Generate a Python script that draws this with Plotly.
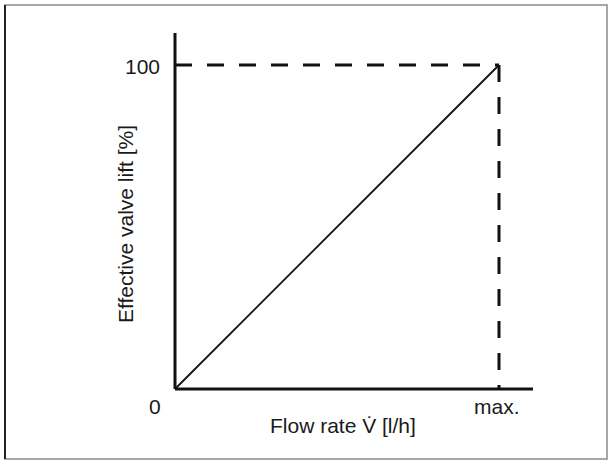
import plotly.graph_objects as go

# ---- data ----
flow_rel = [0.0, 1.0]            # flow rate as fraction of max
lift_pct = [0.0, 100.0]          # effective valve lift [%]
x_tick_vals = [1.0]
x_tick_text = ["max."]
y_tick_vals = [100.0]
y_tick_text = ["100"]
origin_label = "0"
x_axis_end = 1.105
y_axis_end = 109.9

W, H = 612, 464
X0, SX = 175, 324.0   # pixel of x=0, px per unit
Y0, SY = 389, 3.24    # pixel of y=0, px per %

fig = go.Figure()

ink = "#111111"

# axes
fig.add_trace(go.Scatter(x=[0, 0], y=[0, y_axis_end], mode="lines",
                         line=dict(color=ink, width=3), hoverinfo="skip"))
fig.add_trace(go.Scatter(x=[0, x_axis_end], y=[0, 0], mode="lines",
                         line=dict(color=ink, width=3), hoverinfo="skip"))
# dashed guides
fig.add_trace(go.Scatter(x=[flow_rel[0], flow_rel[1]], y=[lift_pct[1], lift_pct[1]], mode="lines",
                         line=dict(color=ink, width=3, dash="17px,15px"), hoverinfo="skip"))
fig.add_trace(go.Scatter(x=[flow_rel[1], flow_rel[1]], y=[lift_pct[1], lift_pct[0]], mode="lines",
                         line=dict(color=ink, width=3, dash="17px,15px"), hoverinfo="skip"))
# characteristic
fig.add_trace(go.Scatter(x=flow_rel, y=lift_pct, mode="lines",
                         line=dict(color=ink, width=1.8), hoverinfo="skip"))

font = dict(family="Liberation Sans, Arial, sans-serif", size=21, color="#1a1a1a")
ann = []
for v, t in zip(x_tick_vals, x_tick_text):
    ann.append(dict(x=v, y=0, xref="x", yref="y", text=t, showarrow=False,
                    xanchor="center", yanchor="middle", yshift=-17, xshift=-2, font=font))
for v, t in zip(y_tick_vals, y_tick_text):
    ann.append(dict(x=0, y=v, xref="x", yref="y", text=t, showarrow=False,
                    xanchor="right", yanchor="middle", xshift=-13, yshift=-1, font=font))
ann.append(dict(x=0, y=0, xref="x", yref="y", text=origin_label, showarrow=False,
                xanchor="center", yanchor="middle", xshift=-20, yshift=-17, font=font))
ann.append(dict(x=343 / W, y=1 - 425 / H, xref="paper", yref="paper",
                text="Flow rate V\u0307 [l/h]", showarrow=False,
                xanchor="center", yanchor="middle", font=font))
ann.append(dict(x=125 / W, y=1 - 224 / H, xref="paper", yref="paper",
                text="Effective valve lift [%]", showarrow=False, textangle=-90,
                xanchor="center", yanchor="middle", font=font))

shapes = [
    dict(type="rect", xref="paper", yref="paper", x0=5 / W, x1=607 / W, y0=1 - 459 / H, y1=1 - 5 / H,
         line=dict(color="#8c8c8c", width=1.5)),
    dict(type="line", xref="paper", yref="paper", x0=5 / W, x1=5 / W, y0=1 - 459 / H, y1=1 - 5 / H,
         line=dict(color="#222222", width=2)),
]

fig.update_layout(
    width=W, height=H, margin=dict(l=0, r=0, t=0, b=0),
    paper_bgcolor="white", plot_bgcolor="white", showlegend=False,
    xaxis=dict(range=[-X0 / SX, (W - X0) / SX], visible=False, fixedrange=True),
    yaxis=dict(range=[(Y0 - H) / SY, Y0 / SY], visible=False, fixedrange=True),
    annotations=ann, shapes=shapes,
)

fig.write_html("out.html", config={"displayModeBar": False},
               post_script="document.body.style.margin='0';document.body.style.overflow='hidden';")
